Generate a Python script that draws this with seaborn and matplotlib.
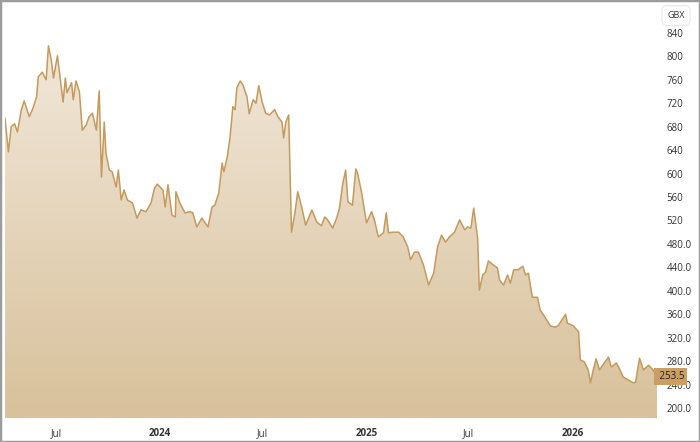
import matplotlib
matplotlib.use("Agg")
import matplotlib.pyplot as plt
import matplotlib.dates as mdates
from matplotlib.colors import LinearSegmentedColormap
from matplotlib.patches import Rectangle
from matplotlib.transforms import blended_transform_factory
import seaborn as sns
import pandas as pd
import numpy as np

# share price (GBX)
dates = [
    "2023-04-01", "2023-04-07", "2023-04-12", "2023-04-18", "2023-04-23", "2023-04-30",
    "2023-05-05", "2023-05-14", "2023-05-20", "2023-05-27", "2023-05-30", "2023-06-06",
    "2023-06-13", "2023-06-17", "2023-06-22", "2023-06-26", "2023-07-03", "2023-07-06",
    "2023-07-13", "2023-07-17", "2023-07-20", "2023-07-28", "2023-07-31", "2023-08-05",
    "2023-08-11", "2023-08-16", "2023-08-23", "2023-08-28", "2023-09-03", "2023-09-10",
    "2023-09-15", "2023-09-19", "2023-09-24", "2023-09-27", "2023-10-03", "2023-10-08",
    "2023-10-15", "2023-10-19", "2023-10-24", "2023-10-29", "2023-11-04", "2023-11-13",
    "2023-11-21", "2023-11-28", "2023-12-07", "2023-12-16", "2023-12-22", "2023-12-27",
    "2024-01-01", "2024-01-06", "2024-01-10", "2024-01-15", "2024-01-22", "2024-01-28",
    "2024-01-29", "2024-02-05", "2024-02-14", "2024-02-23", "2024-02-28", "2024-03-06",
    "2024-03-15", "2024-03-26", "2024-04-02", "2024-04-07", "2024-04-14", "2024-04-20",
    "2024-04-23", "2024-04-29", "2024-05-04", "2024-05-09", "2024-05-13", "2024-05-16",
    "2024-05-22", "2024-05-27", "2024-06-03", "2024-06-07", "2024-06-14", "2024-06-19",
    "2024-06-24", "2024-06-30", "2024-07-06", "2024-07-13", "2024-07-22", "2024-07-28",
    "2024-08-04", "2024-08-07", "2024-08-11", "2024-08-16", "2024-08-21", "2024-08-27",
    "2024-09-01", "2024-09-08", "2024-09-15", "2024-09-26", "2024-10-05", "2024-10-13",
    "2024-10-19", "2024-10-24", "2024-11-02", "2024-11-09", "2024-11-14", "2024-11-20",
    "2024-11-25", "2024-11-29", "2024-12-07", "2024-12-13", "2024-12-16", "2024-12-23",
    "2025-01-01", "2025-01-10", "2025-01-15", "2025-01-22", "2025-01-31", "2025-02-05",
    "2025-02-09", "2025-02-18", "2025-02-27", "2025-03-07", "2025-03-15", "2025-03-20",
    "2025-03-27", "2025-04-03", "2025-04-12", "2025-04-21", "2025-04-30", "2025-05-07",
    "2025-05-14", "2025-05-21", "2025-05-28", "2025-06-06", "2025-06-15", "2025-06-24",
    "2025-06-29", "2025-07-05", "2025-07-10", "2025-07-17", "2025-07-20", "2025-07-26",
    "2025-07-31", "2025-08-05", "2025-08-14", "2025-08-21", "2025-08-25", "2025-09-01",
    "2025-09-08", "2025-09-13", "2025-09-19", "2025-09-27", "2025-10-05", "2025-10-10",
    "2025-10-15", "2025-10-22", "2025-10-31", "2025-11-05", "2025-11-14", "2025-11-23",
    "2025-12-02", "2025-12-07", "2025-12-20", "2025-12-23", "2026-01-03", "2026-01-12",
    "2026-01-15", "2026-01-22", "2026-01-29", "2026-02-02", "2026-02-07", "2026-02-12",
    "2026-02-18", "2026-02-25", "2026-03-06", "2026-03-11", "2026-03-20", "2026-03-25",
    "2026-04-01", "2026-04-10", "2026-04-19", "2026-04-23", "2026-04-30", "2026-05-07",
    "2026-05-16", "2026-05-24", "2026-05-31",
]
prices = [
    695, 637, 680, 685, 671, 709,
    724, 697, 710, 731, 765, 773,
    760, 818, 794, 763, 801, 777,
    722, 763, 738, 755, 726, 758,
    739, 674, 683, 697, 703, 674,
    741, 594, 688, 635, 606, 603,
    577, 606, 555, 572, 555, 550,
    524, 538, 535, 550, 575, 582,
    577, 572, 543, 581, 529, 526,
    569, 550, 533, 535, 533, 509,
    524, 509, 543, 546, 567, 618,
    603, 628, 662, 714, 709, 746,
    758, 751, 731, 702, 726, 720,
    750, 722, 703, 700, 709, 697,
    688, 661, 688, 700, 500, 533,
    569, 543, 512, 538, 517, 511,
    526, 521, 507, 524, 541, 584,
    606, 552, 546, 608, 601, 569,
    516, 535, 521, 492, 499, 533,
    499, 500, 500, 492, 475, 453,
    466, 466, 444, 410, 430, 475,
    495, 483, 492, 500, 521, 504,
    509, 507, 541, 490, 401, 427,
    432, 451, 444, 439, 418, 410,
    427, 413, 436, 436, 442, 427,
    430, 389, 389, 367, 354, 340,
    338, 341, 360, 345, 340, 330,
    282, 279, 265, 243, 265, 284,
    265, 275, 287, 270, 277, 268,
    253, 248, 243, 244, 285, 265,
    273, 265, 253.5,
]

y_ticks = [200, 240, 280, 320, 360, 400, 440, 480, 520, 560, 600, 640, 680, 720, 760, 800, 840]
y_tick_labels = ["200.0", "240.0", "280.0", "320.0", "360.0", "400.0", "440.0", "480.0",
                 "520", "560", "600", "640", "680", "720", "760", "800", "840"]
x_ticks = ["2023-07-01", "2024-01-01", "2024-07-01", "2025-01-01", "2025-07-01", "2026-01-01"]
x_tick_labels = ["Jul", "2024", "Jul", "2025", "Jul", "2026"]
currency = "GBX"

LINE = "#c59a5b"

df = pd.DataFrame({"date": pd.to_datetime(dates), "price": prices})

sns.set_style("white")
plt.rcParams["font.family"] = ["Open Sans", "DejaVu Sans"]

fig = plt.figure(figsize=(7, 4.42), dpi=100)
ax = fig.add_axes([5 / 700, 24 / 442, 652 / 700, 415 / 442])

y_lo, y_hi = 183, 891

# gradient area under the line
cmap = LinearSegmentedColormap.from_list("sand", ["#d8c19b", "#f1e7d9"])
x0 = mdates.date2num(df["date"].iloc[0])
x1 = mdates.date2num(df["date"].iloc[-1])
im = ax.imshow(np.linspace(0, 1, 256).reshape(-1, 1), cmap=cmap, aspect="auto",
               origin="lower", extent=[x0, x1, y_lo, df["price"].max()], zorder=1)
area = ax.fill_between(df["date"], df["price"], y_lo, color="none", lw=0)
im.set_clip_path(area.get_paths()[0], transform=ax.transData)

sns.lineplot(data=df, x="date", y="price", color=LINE, linewidth=1.1, ax=ax, zorder=3)

ax.set_xlim(df["date"].iloc[0], df["date"].iloc[-1])
ax.set_ylim(y_lo, y_hi)
ax.set_xlabel("")
ax.set_ylabel("")
for s in ax.spines.values():
    s.set_visible(False)

ax.yaxis.tick_right()
ax.set_yticks(y_ticks)
ax.set_yticklabels(y_tick_labels)
ax.set_xticks(pd.to_datetime(x_ticks))
ax.set_xticklabels(x_tick_labels)
ax.tick_params(axis="both", length=0, labelsize=7, colors="#333333")
ax.tick_params(axis="y", pad=7)
ax.tick_params(axis="x", pad=7)
for lbl in ax.get_xticklabels():
    if lbl.get_text().isdigit():
        lbl.set_fontweight("bold")

# currency tag and last price marker
fig.text(676 / 700, 1 - 15.5 / 442, currency, ha="center", va="center", fontsize=6.5,
         color="#333333",
         bbox=dict(boxstyle="round,pad=0.6", fc="white", ec="#e8e8e8", lw=0.8))
trans = blended_transform_factory(ax.transAxes, ax.transData)
ax.text(1.0, df["price"].iloc[-1], f" {df['price'].iloc[-1]:.1f}", transform=trans,
        ha="left", va="center", fontsize=7, color="#222222", zorder=5,
        bbox=dict(boxstyle="square,pad=0.28", fc="#c9a062", ec="none"))

fig.patches.append(Rectangle((0, 0), 1, 1, transform=fig.transFigure, fill=False,
                             ec="#9c9c9c", lw=2.5))

fig.savefig("out.png", dpi=100)
